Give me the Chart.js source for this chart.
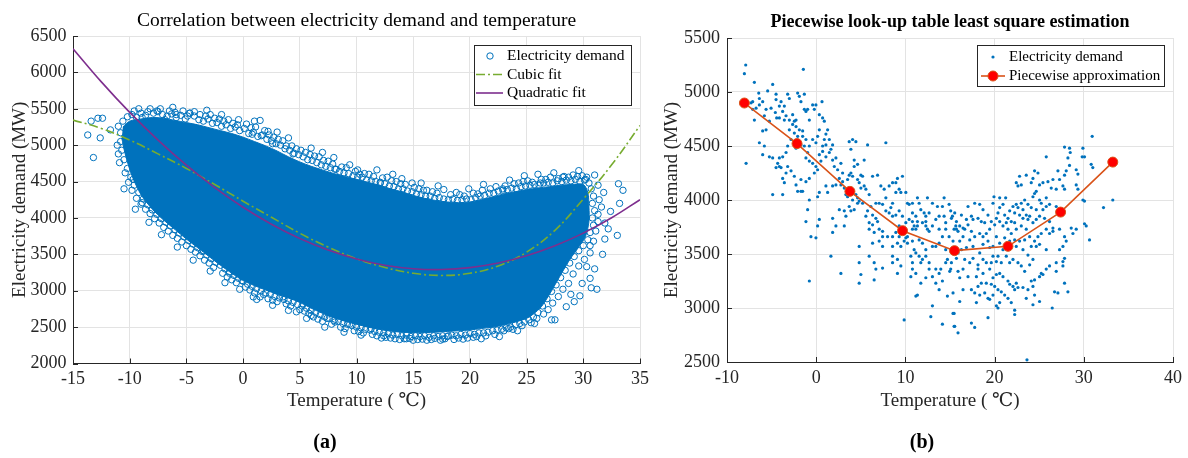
<!DOCTYPE html>
<html>
<head>
<meta charset="utf-8">
<script src="https://cdn.jsdelivr.net/npm/chart.js@4.4.1/dist/chart.umd.min.js"></script>
<style>
  html, body { margin: 0; padding: 0; background: #fff; }
  #wrap { position: relative; width: 1188px; height: 458px; overflow: hidden; }
  canvas { position: absolute; top: 0; }
</style>
</head>
<body>
<div id="wrap">
  <canvas id="ca" width="660" height="458" style="left:0"></canvas>
  <canvas id="cb" width="528" height="458" style="left:660px"></canvas>
</div>
<script>
// ---------------- Panel (a) data ----------------
const xTicksA = [-15, -10, -5, 0, 5, 10, 15, 20, 25, 30, 35];
const yTicksA = [2000, 2500, 3000, 3500, 4000, 4500, 5000, 5500, 6000, 6500];
const fitTemps = [-15, -12.5, -10, -7.5, -5, -2.5, 0, 2.5, 5, 7.5, 10, 12.5, 15, 17.5, 20, 22.5, 25, 27.5, 30, 32.5, 35];
const cubicFit = [5345, 5230, 5070, 4880, 4680, 4460, 4230, 4010, 3790, 3600, 3440, 3320, 3240, 3210, 3240, 3340, 3530, 3830, 4260, 4730, 5270];
const quadraticFit = [6326, 5870, 5451, 5070, 4725, 4417, 4147, 3913, 3717, 3558, 3435, 3350, 3302, 3291, 3317, 3380, 3480, 3617, 3791, 4002, 4251];
// outline of the saturated (overlapping circles) part of the cloud
const denseCloudA = [[-10.6,5250],[-10.0,5330],[-9.0,5360],[-8.0,5380],[-7.0,5370],[-6.0,5340],[-5.0,5310],[-4.0,5280],[-3.0,5240],[-2.0,5200],[-1.0,5160],[0,5110],[1,5050],[2,4990],[3,4920],[4,4840],[5,4770],[6,4710],[7,4660],[8,4610],[9,4570],[10,4530],[11,4490],[12,4450],[13,4400],[14,4360],[15,4310],[16,4270],[17,4240],[18,4220],[19,4210],[20,4220],[21,4250],[22,4290],[23,4330],[24,4360],[25,4390],[26,4410],[27,4430],[28,4450],[29,4460],[30,4460],[30.4,4350],[30.5,4150],[30.5,3950],[30.2,3750],[29.6,3600],[28.9,3450],[28.2,3270],[27.5,3080],[26.9,2920],[26.3,2780],[25.6,2680],[25,2620],[24,2570],[23,2530],[22,2500],[21,2480],[20,2460],[19,2450],[18,2440],[17,2430],[16,2425],[15,2425],[14,2430],[13,2445],[12,2470],[11,2500],[10,2540],[9,2580],[8,2630],[7,2690],[6,2760],[5,2840],[4,2900],[3,2950],[2,3010],[1,3070],[0,3140],[-1,3240],[-2,3350],[-3,3470],[-4,3590],[-5,3710],[-6,3840],[-7,3970],[-8,4120],[-9,4320],[-9.8,4580],[-10.4,4880],[-10.7,5100]];
// individually visible circles (cloud edge and outliers)
const demandPointsA = [
[-10.6,5330],[-10.2,5390],[-9.8,5420],[-9.4,5380],[-9.0,5440],[-8.6,5410],[-8.2,5500],[-7.9,5440],[-7.5,5460],[-7.1,5420],[-6.7,5400],[-6.3,5430],[-5.9,5380],[-5.5,5410],[-5.1,5360],[-4.7,5440],[-4.3,5400],[-3.9,5350],[-3.5,5330],[-3.1,5360],[-2.7,5300],[-2.3,5310],[-1.9,5260],[-1.5,5280],[-1.1,5230],[-0.7,5250],[-0.3,5200],[0.1,5230],[0.5,5160],[0.9,5180],[1.3,5120],[1.7,5140],[2.1,5080],[2.5,5060],[2.9,5020],[3.3,5000],[3.7,4950],[4.1,4930],[4.5,4890],[4.9,4870],[5.3,4840],[5.7,4800],[6.1,4790],[6.5,4760],[6.9,4730],[7.3,4710],[7.7,4690],[8.1,4670],[8.5,4640],[8.9,4620],[9.3,4610],[9.7,4580],[10.1,4560],[10.5,4560],[10.9,4520],[11.3,4510],[11.7,4500],[12.1,4480],[12.5,4470],[12.9,4440],[13.3,4430],[13.7,4400],[14.1,4400],[14.5,4370],[14.9,4360],[15.3,4330],[15.7,4320],[16.1,4300],[16.5,4300],[16.9,4270],[17.3,4280],[17.7,4260],[18.1,4250],[18.5,4260],[18.9,4240],[19.3,4250],[19.7,4260],[20.1,4250],[20.5,4280],[20.9,4300],[21.3,4310],[21.7,4340],[22.1,4340],[22.5,4370],[22.9,4380],[23.3,4390],[23.7,4410],[24.1,4400],[24.5,4430],[24.9,4440],[25.3,4450],[25.7,4460],[26.1,4450],[26.5,4480],[26.9,4490],[27.3,4480],[27.7,4510],[28.1,4500],[28.5,4520],[28.9,4510],[29.3,4530],[29.7,4500],[30.1,4520],[30.5,4480],
[30.7,4400],[30.9,4300],[30.8,4200],[31.0,4100],[30.8,4000],[30.9,3900],[30.6,3800],[30.4,3700],[30.0,3620],[29.6,3550],[29.2,3470],[28.8,3380],[28.4,3280],[28.0,3180],[27.6,3080],[27.2,2990],[26.8,2890],[26.4,2790],[26.0,2700],
[25.6,2640],[25.2,2600],[24.8,2570],[24.4,2550],[24.0,2530],[23.6,2500],[23.2,2490],[22.8,2470],[22.4,2460],[22.0,2450],[21.6,2430],[21.2,2420],[20.8,2420],[20.4,2400],[20.0,2410],[19.6,2390],[19.2,2400],[18.8,2380],[18.4,2390],[18.0,2370],[17.6,2380],[17.2,2370],[16.8,2380],[16.4,2360],[16.0,2380],[15.6,2370],[15.2,2380],[14.8,2370],[14.4,2390],[14.0,2380],[13.6,2400],[13.2,2390],[12.8,2410],[12.4,2420],[12.0,2430],[11.6,2440],[11.2,2460],[10.8,2470],[10.4,2490],[10.0,2500],[9.6,2520],[9.2,2540],[8.8,2550],[8.4,2580],[8.0,2590],[7.6,2620],[7.2,2640],[6.8,2670],[6.4,2700],[6.0,2730],[5.6,2760],[5.2,2790],[4.8,2810],[4.4,2840],[4.0,2860],[3.6,2880],[3.2,2900],[2.8,2920],[2.4,2950],[2.0,2970],[1.6,3000],[1.2,3030],[0.8,3060],[0.4,3090],[0.0,3130],[-0.4,3170],[-0.8,3210],[-1.2,3260],[-1.6,3300],[-2.0,3350],[-2.4,3390],[-2.8,3440],[-3.2,3490],[-3.6,3540],[-4.0,3590],[-4.4,3640],[-4.8,3690],[-5.2,3740],[-5.6,3790],[-6.0,3840],[-6.4,3890],[-6.8,3940],[-7.2,3990],[-7.6,4050],[-8.0,4110],[-8.4,4180],[-8.8,4260],[-9.2,4350],[-9.6,4450],[-9.9,4560],[-10.2,4680],[-10.5,4800],[-10.7,4930],[-10.8,5050],[-10.8,5170],
[-9.6,5470],[-8.9,5380],[-8.4,5460],[-7.3,5500],[-6.9,5350],[-6.5,5470],[-6.0,5450],[-5.3,5470],[-4.9,5400],[-3.8,5420],[-3.3,5400],[-2.9,5420],[-2.1,5360],[-1.7,5330],[-1.3,5350],[-0.9,5300],[-0.5,5280],[0.3,5290],[0.7,5240],[1.1,5250],[1.9,5200],[2.3,5140],[2.7,5110],[3.1,5080],[3.5,5060],[4.3,4990],[4.7,4950],[5.1,4930],[5.5,4900],[5.9,4870],[6.3,4850],[6.7,4840],[7.1,4790],[7.5,4780],[7.9,4740],[8.7,4700],[9.1,4690],[9.9,4640],[10.7,4610],[11.1,4600],[11.5,4570],[12.3,4550],[12.7,4560],[13.1,4510],[13.5,4500],[13.9,4470],[14.3,4460],[15.1,4420],[15.5,4400],[15.9,4380],[16.7,4360],[17.1,4340],[18.3,4320],[19.1,4320],[19.5,4300],[20.3,4340],[20.7,4330],[21.1,4380],[22.3,4430],[23.1,4440],[23.9,4470],[24.3,4480],[24.7,4500],[25.1,4510],[26.3,4530],[26.7,4530],[27.1,4560],[28.3,4570],[28.7,4560],[29.1,4590],[29.5,4570],[29.9,4580],[30.3,4560],
[31.3,4450],[31.4,4250],[31.6,4150],[31.3,3950],[31.1,3820],[30.9,3680],[30.6,3520],[30.1,3430],[29.6,3340],[29.1,3230],[28.7,3100],[28.2,3020],[27.8,2920],[27.3,2830],[26.9,2740],[26.5,2680],
[25.9,2620],[25.4,2560],[24.6,2520],[23.8,2470],[23.0,2450],[22.2,2400],[21.4,2380],[20.6,2370],[19.8,2350],[19.0,2350],[18.6,2330],[17.8,2340],[17.4,2320],[16.6,2330],[16.2,2320],[15.4,2330],[15.0,2320],[14.2,2340],[13.8,2330],[13.0,2350],[12.6,2360],[11.8,2380],[11.4,2400],[10.6,2420],[10.2,2440],[9.8,2450],[9.0,2480],[8.6,2500],[7.8,2540],[7.0,2580],[6.6,2610],[6.2,2640],[5.8,2690],[5.4,2720],[5.0,2740],[4.2,2790],[3.8,2820],[3.0,2850],[2.6,2870],[2.2,2890],[1.8,2950],[1.0,2970],[0.6,3010],[0.2,3050],[-0.6,3110],[-1.0,3150],[-1.4,3190],[-1.8,3240],[-2.6,3320],[-3.0,3380],[-3.4,3420],[-3.8,3480],[-4.2,3530],[-4.6,3570],[-5.0,3620],[-5.4,3670],[-5.8,3720],[-6.2,3760],[-6.6,3820],[-7.0,3870],[-7.4,3930],[-7.8,3990],[-8.2,4060],[-8.6,4120],[-9.0,4190],[-9.4,4270],[-9.8,4380],[-10.1,4490],[-10.4,4620],[-10.9,4760],[-11.0,4880],[-11.1,5000],[-11.0,5260],
[1.0,5330],[3.0,5180],[4.0,5100],[6.0,4960],[7.0,4900],[8.0,4830],[11.8,4660],[13.2,4600],[14.0,4540],[15.7,4480],[17.2,4440],[19.9,4400],[21.2,4460],[23.5,4520],[24.8,4580],[26.0,4600],[27.4,4620],[29.6,4650],[-1.9,5420],[-3.2,5480],[-6.2,5520],[-9.2,5500],
[24.2,2450],[22.6,2370],[21.0,2340],[19.4,2335],[17.6,2335],[15.8,2335],[14.4,2340],[13.4,2340],[12.2,2350],[10.4,2390],[8.9,2430],[7.2,2500],[5.6,2620],[4.0,2730],[2.6,2800],[1.2,2880],[-0.3,3020],[-1.6,3110],[-2.9,3270],[-4.4,3420],[-5.8,3600],[-7.2,3770],[-8.3,3940],[-9.5,4120],[-10.5,4400],
[31.8,4350],[32.2,3850],[31.7,3500],[31.0,3300],[29.9,3100],[28.9,2950],
[-13.4,5330],[-12.8,5370],[-12.4,5370],[-13.7,5140],[-12.6,5100],[-11.7,5210],[-13.2,4830],[-7.6,5470],[-5.9,5420],[-4.7,5440],[-4.3,5460],[-2.5,5370],[-0.4,5350],[1.5,5340],[0.8,5150],[2.2,5190],[1.6,5130],[2.6,5020],[3.8,4990],[4.4,4880],[-8.9,4210],[-9.7,4530],[-0.1,3140],[0.9,2915],[1.5,2915],[3.5,2915],[4.7,2710],[-1.2,3240],[-3.5,3550],[9.4,4730],[8.2,4670],[10.1,4660],[10.3,4600],[12.1,4490],[14.9,4480],[16.2,4380],[17.7,4390],[18.8,4350],[21.8,4400],[22.9,4400],[25.5,4490],[26.2,4480],[27.8,4540],[28.2,4560],[30.2,4530],[31.0,4590],[33.1,4470],[33.5,4380],[33.2,4200],[32.4,4090],[31.9,3930],[31.3,4050],[33.0,3760],[31.9,3710],[30.6,3620],[30.3,3330],[30.6,3170],[31.2,3020],[30.7,3040],[29.7,2930],[29.2,2850],[28.5,2780],[27.5,2600],[27.2,2600],[25.7,2550],[23.4,2480],[20.3,2360],[18.1,2380],[16.9,2345],[14.7,2345],[12.4,2380],[11.3,2480],[9.4,2540],[8.1,2570],[7.4,2620],[6.0,2660],[5.3,2820]
];

// ---------------- Panel (b) data ----------------
const xTicksB = [-10, 0, 10, 20, 30, 40];
const yTicksB = [2500, 3000, 3500, 4000, 4500, 5000, 5500];
const pieceTemps = [-8.05, -2.15, 3.78, 9.68, 15.5, 21.5, 27.4, 33.25];
const pieceDemand = [4898, 4522, 4080, 3716, 3531, 3571, 3888, 4351];
const demandPointsB = [
[-7.9,5250],[-8.05,5170],[-6.93,5090],[-1.44,5210],[-7.86,4340],[-4.88,5070],[-5.44,5010],[-6.44,4990],[-6.37,4940],[-7.12,4910],[-7.3,4900],[-6.37,4880],[-6.0,4910],[-5.62,4840],[-5.81,4780],[-5.06,4850],[-4.5,4980],[-4.5,4930],[-3.94,4910],[-4.13,4870],[-4.58,4810],[-4.43,4760],[-4.13,4760],[-5.25,4730],[-3.76,4820],[-3.57,4870],[-3.2,4980],[-3.01,4940],[-3.57,4740],[-3.38,4780],[-3.01,4740],[-2.64,4790],[-2.45,4730],[-2.26,4740],[-2.08,4990],[-1.89,4960],[-1.33,4980],[-1.71,4910],[-1.33,4840],[-1.15,4820],[-0.96,4840],[-0.77,4740],[-0.4,4880],[-0.21,4840],[-0.03,4880],[0.35,4790],[0.65,4910],[0.72,4760],[0.91,4730],[1.28,4650],[1.09,4610],[0.91,4560],[0.35,4650],[0.16,4590],[-0.4,4560],[-0.03,4530],[-0.77,4500],[-1.15,4560],[-1.52,4640],[-1.89,4650],[-2.26,4680],[-2.64,4700],[-3.01,4650],[-2.45,4620],[-2.08,4590],[-1.52,4590],[-1.33,4500],[-1.71,4510],[-2.26,4480],[-2.82,4560],[-3.2,4500],[-3.38,4440],[-3.76,4400],[-4.13,4390],[-4.32,4340],[-4.5,4300],[-4.88,4390],[-5.25,4400],[-6.0,4420],[-6.37,4530],[-5.81,4500],[-5.62,4650],[-6.0,4640],[-6.93,4740],[-7.12,4840],[-6.74,4850],[-0.96,4440],[-1.15,4390],[-0.77,4360],[-0.4,4340],[-0.03,4310],[0.16,4280],[-0.21,4250],[-0.77,4200],[-1.15,4170],[-1.71,4190],[-2.45,4220],[-2.82,4270],[-3.38,4250],[-3.94,4300],[-3.76,4200],[-3.57,4160],[-4.88,4050],[-3.76,4050],[-2.08,4080],[-1.71,4080],[-1.52,4080],[-2.26,4140],[-3.2,4310],[-4.13,4310],[0.53,4360],[1.09,4400],[1.47,4440],[1.65,4470],[1.84,4370],[2.03,4310],[2.21,4390],[1.47,4560],[1.09,4510],[0.72,4500],[0.72,4450],[0.35,4420],[1.84,4510],[2.4,4280],[2.59,4200],[2.77,4340],[2.96,4250],[2.96,4170],[2.77,4140],[2.21,4140],[1.84,4130],[1.09,4130],[1.28,4070],[0.35,4070],[0.16,4030],[-0.77,4000],[-0.96,3910],[-1.15,3800],[-0.59,3660],[-0.03,3650],[0.35,3820],[0.16,3760],[-0.77,3250],[1.84,3700],[1.65,3480],[2.77,3320],[1.84,3830],[2.21,3760],[2.59,3910],[3.15,3760],[3.33,3850],[3.7,3940],[3.15,3900],[3.89,3900],[4.26,3910],[4.64,3970],[4.08,4000],[4.45,4050],[4.64,4020],[4.82,3990],[5.2,3970],[5.01,4110],[5.38,4130],[5.57,4100],[5.94,4050],[6.32,4220],[6.88,4230],[5.2,4220],[4.82,4160],[4.64,4190],[3.89,4250],[4.08,4220],[3.7,4230],[3.52,4190],[3.15,4110],[3.33,4050],[3.52,4030],[3.7,4540],[4.08,4560],[4.45,4540],[3.89,4470],[4.26,4370],[4.26,4310],[4.64,4330],[5.38,4370],[5.01,4230],[5.76,4510],[7.81,4530],[5.94,3790],[6.32,3770],[6.5,3700],[5.94,3730],[7.06,3730],[7.44,3710],[6.69,3830],[6.88,3800],[6.32,3860],[5.57,3850],[5.76,3900],[6.13,3940],[6.69,3970],[7.06,3970],[7.44,3960],[7.81,4020],[7.25,4130],[7.62,4100],[8.18,4130],[8.56,4160],[8.93,4160],[9.11,4200],[9.67,4220],[9.3,4100],[9.49,4070],[8.93,4070],[8.56,3970],[8.37,3930],[7.81,3900],[8.18,3880],[8.56,3850],[8.93,3860],[9.3,3900],[9.67,3850],[9.3,3760],[8.93,3700],[8.56,3660],[8.0,3660],[7.44,3660],[7.06,3620],[7.44,3570],[6.32,3600],[5.94,3480],[4.82,3570],[4.82,3420],[6.5,3420],[7.44,3370],[6.69,3360],[6.5,3260],[4.82,3230],[5.01,3310],[8.56,3480],[9.11,3450],[9.49,3390],[9.11,3320],[8.56,3420],[10.05,4070],[10.23,3970],[10.42,3960],[10.79,3880],[11.17,3850],[11.54,3970],[11.73,3910],[12.1,3880],[12.29,3800],[11.91,3790],[12.29,3760],[12.47,3730],[12.66,3710],[13.03,3760],[13.41,3820],[13.78,3850],[14.15,3940],[13.59,3940],[12.66,3880],[12.47,4020],[12.29,3850],[11.35,3800],[11.17,3730],[10.79,3730],[10.23,3660],[10.05,3650],[10.23,3600],[10.98,3540],[11.17,3510],[11.54,3480],[11.73,3420],[10.79,3420],[10.61,3290],[11.17,3320],[11.73,3230],[11.35,3120],[11.17,3110],[12.29,3280],[13.03,3290],[13.41,3230],[13.78,3170],[14.15,3250],[14.71,3110],[13.03,3020],[12.85,2920],[14.15,2850],[15.46,2950],[15.46,2830],[9.86,2890],[12.29,3480],[12.66,3420],[13.03,3570],[13.78,3600],[14.15,3660],[14.52,3730],[14.9,3660],[14.52,3540],[14.71,3450],[15.27,3510],[15.08,3360],[14.52,3420],[14.34,3850],[14.52,3790],[14.9,3960],[15.08,3900],[15.27,3850],[15.65,3760],[15.46,3730],[13.78,3730],[13.41,3570],[9.11,3600],[9.49,3570],[9.86,3620],[8.56,3570],[9.3,3660],[10.79,3620],[11.54,3630],[11.91,3600],[12.29,3540],[11.91,3450],[12.66,3360],[13.41,3360],[13.78,3320],[13.97,3360],[10.61,3480],[10.79,3360],[10.98,3760],[11.35,3760],[10.79,3800],[10.42,3820],[10.05,3790],[10.79,3970],[11.35,4020],[13.03,3970],[14.34,4020],
[30.94,4590],[27.84,4490],[28.4,4480],[29.9,4480],[28.48,4440],[29.82,4400],[30.08,4400],[25.79,4400],[28.22,4390],[28.4,4320],[29.15,4280],[29.34,4240],[30.83,4330],[31.01,4300],[27.1,4270],[28.03,4270],[27.84,4230],[27.28,4190],[26.54,4190],[25.98,4170],[24.48,4270],[24.86,4250],[24.3,4200],[23.55,4230],[22.8,4220],[22.43,4160],[22.99,4140],[22.62,4130],[24.11,4160],[25.04,4140],[25.42,4160],[26.35,4110],[26.91,4100],[27.66,4130],[27.84,4100],[29.15,4140],[29.34,4100],[29.9,4000],[30.08,3990],[33.25,4000],[32.21,3930],[24.67,4080],[24.48,4060],[24.3,4030],[25.04,4000],[25.23,3970],[25.79,4020],[26.16,3960],[26.91,3940],[25.79,3940],[25.42,3910],[24.67,3910],[24.11,3930],[23.74,3960],[23.37,4000],[22.99,3970],[22.43,3960],[22.62,3930],[23.18,3910],[23.55,3860],[23.93,3850],[23.74,3820],[23.18,3830],[22.8,3860],[22.25,3880],[21.69,3900],[22.06,3940],[20.94,3960],[20.57,3930],[20.38,3880],[21.13,3860],[21.5,3830],[21.87,3800],[22.25,3790],[21.31,3790],[20.57,3800],[20.94,3760],[21.5,3730],[21.87,3690],[22.43,3730],[22.99,3760],[23.55,3730],[24.3,3790],[24.67,3820],[25.04,3850],[25.6,3830],[26.16,3800],[26.54,3740],[26.16,3690],[25.79,3730],[25.23,3690],[24.86,3660],[24.48,3620],[24.11,3570],[24.67,3570],[25.04,3590],[25.79,3540],[26.54,3710],[27.28,3730],[27.84,3660],[28.03,3620],[27.66,3570],[27.28,3540],[27.84,3460],[27.66,3430],[26.91,3420],[26.16,3390],[25.79,3360],[25.23,3320],[25.04,3290],[25.42,3310],[24.48,3260],[24.11,3250],[24.3,3200],[23.74,3170],[23.18,3190],[22.62,3190],[22.43,3230],[22.06,3200],[22.25,3170],[21.69,3220],[21.5,3250],[20.94,3290],[20.57,3320],[20.2,3310],[19.82,3280],[19.63,3220],[20.01,3200],[20.38,3170],[20.75,3150],[21.13,3120],[21.5,3090],[21.87,3050],[22.25,2980],[22.25,2940],[20.57,3050],[20.2,3020],[20.38,3000],[19.26,2910],[23.55,3090],[24.48,3120],[25.04,3060],[24.3,3030],[26.46,3000],[26.72,3150],[27.1,3140],[28.22,3150],[27.84,3230],[26.91,3340],[27.66,3390],[23.63,2520],[18.7,3320],[18.51,3230],[18.89,3140],[19.26,3090],[19.45,3080],[19.82,3120],[18.14,3200],[17.77,3140],[18.33,3120],[17.96,3050],[17.4,3170],[16.46,3170],[16.09,3060],[15.34,3140],[15.34,2950],[15.53,2830],[15.9,2770],[17.4,2860],[17.77,2820],[19.07,3230],[19.45,3360],[19.07,3420],[18.7,3450],[18.14,3400],[17.58,3460],[17.21,3420],[16.65,3450],[16.46,3360],[15.9,3340],[16.09,3280],[17.02,3290],[17.96,3290],[18.14,3360],[18.33,3510],[17.58,3570],[16.84,3560],[16.28,3540],[15.9,3510],[17.21,3630],[16.46,3660],[16.65,3730],[16.09,3760],[17.02,3770],[17.4,3710],[17.77,3660],[18.33,3690],[18.7,3660],[19.07,3690],[19.45,3730],[19.26,3620],[18.7,3590],[19.45,3560],[19.82,3570],[18.89,3790],[18.51,3800],[18.14,3830],[17.58,3820],[17.4,3850],[16.84,3820],[16.46,3740],[15.9,3710],[15.72,3800],[16.28,3860],[17.02,3940],[17.77,3970],[18.33,3960],[18.7,3910],[19.26,3860],[19.63,3800],[20.01,3770],[20.2,3830],[19.82,3970],[20.57,4020],[21.24,4020],[19.93,4030],[20.2,3660],[20.57,3600],[20.94,3540],[21.31,3480],[21.69,3420],[22.06,3450],[22.62,3420],[22.99,3390],[23.37,3340],[23.93,3400],[24.3,3450],[23.74,3490],[23.18,3540],[22.43,3570],[22.8,3620],[23.37,3630],[23.93,3660],[22.25,3630],[21.69,3620],[21.13,3650],[20.75,3420],[20.2,3430],[19.82,3480],[20.38,3480],[19.63,3420],[14.97,3340],[15.16,3420],[30.64,3630],[30.08,3780],[30.27,3760],[28.78,3690],[28.59,3740],[29.15,3730],[15.16,3830],[15.53,3880],[15.72,3730],[15.34,3620],[16.09,3620],[15.72,3460]
];

// ---------------- helpers ----------------
const SERIF = "'Liberation Serif', 'Times New Roman', 'DejaVu Serif', serif";
const pts = arr => arr.map(p => ({x: p[0], y: p[1]}));
const zipXY = (xs, ys) => xs.map((x, i) => ({x, y: ys[i]}));

const BLUE = '#0072BD', GREEN = '#77AC30', PURPLE = '#7E2F8E', ORANGE = '#D95319';
const AXIS = '#262626', GRID = '#e3e3e3';

// inward tick marks + boxed legend (MATLAB style)
const decor = {
  id: 'decor',
  afterDatasetsDraw(chart, args, o) {
    const {ctx, chartArea: a, scales: {x, y}} = chart;
    ctx.save();
    ctx.strokeStyle = AXIS; ctx.lineWidth = 1;
    ctx.beginPath();
    x.ticks.forEach(t => { const px = Math.round(x.getPixelForValue(t.value)) + 0.5; ctx.moveTo(px, a.bottom); ctx.lineTo(px, a.bottom - o.tick); });
    y.ticks.forEach(t => { const py = Math.round(y.getPixelForValue(t.value)) + 0.5; ctx.moveTo(a.left, py); ctx.lineTo(a.left + o.tick, py); });
    ctx.stroke();
    // legend
    const L = o.legend;
    ctx.fillStyle = '#fff';
    ctx.fillRect(L.x, L.y, L.w, L.h);
    ctx.strokeStyle = AXIS; ctx.lineWidth = 1;
    ctx.strokeRect(L.x + 0.5, L.y + 0.5, L.w, L.h);
    ctx.font = L.size + 'px ' + SERIF;
    ctx.textBaseline = 'middle'; ctx.textAlign = 'left';
    L.items.forEach((it, i) => {
      const cy = L.rows[i];
      const ds = chart.data.datasets[it.ds];
      ctx.save();
      if (it.kind === 'circle' || it.kind === 'dot') {
        ctx.beginPath(); ctx.arc(L.mx, cy, ds.pointRadius, 0, Math.PI * 2);
        if (it.kind === 'dot') { ctx.fillStyle = ds.pointBackgroundColor; ctx.fill(); }
        else { ctx.strokeStyle = ds.pointBorderColor; ctx.lineWidth = ds.pointBorderWidth; ctx.stroke(); }
      } else {
        ctx.beginPath(); ctx.moveTo(L.lx0, cy); ctx.lineTo(L.lx1, cy);
        ctx.strokeStyle = ds.borderColor; ctx.lineWidth = ds.borderWidth;
        ctx.setLineDash(ds.borderDash || []); ctx.stroke(); ctx.setLineDash([]);
        if (it.kind === 'linemarker') {
          ctx.beginPath(); ctx.arc(L.mx, cy, ds.pointRadius, 0, Math.PI * 2);
          ctx.fillStyle = ds.pointBackgroundColor; ctx.fill();
          ctx.strokeStyle = ds.pointBorderColor; ctx.lineWidth = ds.pointBorderWidth; ctx.stroke();
        }
      }
      ctx.restore();
      ctx.fillStyle = '#000';
      ctx.fillText(ds.label, L.tx, cy);
    });
    ctx.restore();
  }
};

function axisCfg(ticksArr, fixed, horiz, titleText, titlePad, tickPad) {
  return {
    type: 'linear',
    min: ticksArr[0], max: ticksArr[ticksArr.length - 1],
    afterBuildTicks: s => { s.ticks = ticksArr.map(v => ({value: v})); },
    afterFit: s => {
      if (horiz) { s.height = fixed; s.paddingLeft = 0; s.paddingRight = 0; }
      else { s.width = fixed; s.paddingTop = 0; s.paddingBottom = 0; }
    },
    grid: {color: GRID, lineWidth: 1, drawTicks: false},
    border: {color: AXIS, width: 1},
    ticks: {padding: tickPad, color: AXIS, font: {family: SERIF, size: 18}, callback: v => String(v), maxRotation: 0, autoSkip: false},
    title: {display: true, text: titleText, color: AXIS, font: {family: SERIF, size: 19}, padding: titlePad}
  };
}

// ---------------- Chart (a) ----------------
new Chart(document.getElementById('ca'), {
  type: 'scatter',
  data: {datasets: [
    {type: 'line', label: 'Quadratic fit', data: zipXY(fitTemps, quadraticFit), borderColor: PURPLE, borderWidth: 1.6, pointRadius: 0, tension: 0.4, fill: false, order: 0},
    {type: 'line', label: 'Cubic fit', data: zipXY(fitTemps, cubicFit), borderColor: GREEN, borderWidth: 1.6, borderDash: [9, 3, 2, 3], pointRadius: 0, tension: 0.4, fill: false, order: 1},
    {label: 'Electricity demand', data: pts(demandPointsA), pointRadius: 3.2, pointBorderWidth: 1, pointBorderColor: BLUE, pointBackgroundColor: 'rgba(0,0,0,0)', borderColor: BLUE, order: 2},
    {type: 'line', label: 'Electricity demand (dense)', data: pts(denseCloudA), fill: 'shape', backgroundColor: BLUE, borderColor: BLUE, borderWidth: 1, pointRadius: 0, tension: 0.3, order: 3}
  ]},
  options: {
    responsive: false, animation: false, devicePixelRatio: 1,
    layout: {padding: {left: 10, right: 20, top: 0, bottom: 0}},
    plugins: {
      legend: {display: false}, tooltip: {enabled: false},
      title: {display: true, fullSize: false, text: 'Correlation between electricity demand and temperature', color: '#000',
              font: {family: SERIF, size: 19.5, weight: 'normal'}, padding: {top: 9.5, bottom: 3.1}},
      subtitle: {display: true, position: 'bottom', text: '(a)', color: '#000',
                 font: {family: SERIF, size: 20, weight: 'bold'}, padding: {top: 17.5, bottom: 3}},
      decor: {tick: 5, legend: {x: 474, y: 45, w: 157, h: 60, size: 15.5, rows: [56, 74.5, 93], mx: 490, lx0: 476, lx1: 503, tx: 507,
              items: [{ds: 2, kind: 'circle'}, {ds: 1, kind: 'line'}, {ds: 0, kind: 'line'}]}}
    },
    scales: {
      x: axisCfg(xTicksA, 50, true, 'Temperature ( ℃)', {top: 0, bottom: 1}, 4.5),
      y: axisCfg(yTicksA, 63, false, 'Electricity demand (MW)', {top: -1, bottom: 0}, 6.5)
    }
  },
  plugins: [decor]
});

// ---------------- Chart (b) ----------------
new Chart(document.getElementById('cb'), {
  type: 'scatter',
  data: {datasets: [
    {type: 'line', label: 'Piecewise approximation', data: zipXY(pieceTemps, pieceDemand), borderColor: ORANGE, borderWidth: 1.6,
     pointRadius: 5, pointBorderWidth: 1, pointBackgroundColor: '#FF0000', pointBorderColor: ORANGE, tension: 0, fill: false, order: 0},
    {label: 'Electricity demand', data: pts(demandPointsB), pointRadius: 1.6, pointBorderWidth: 0, pointBackgroundColor: BLUE, pointBorderColor: BLUE, backgroundColor: BLUE, order: 1}
  ]},
  options: {
    responsive: false, animation: false, devicePixelRatio: 1,
    layout: {padding: {left: 11, right: 15, top: 0, bottom: 0}},
    plugins: {
      legend: {display: false}, tooltip: {enabled: false},
      title: {display: true, fullSize: false, text: 'Piecewise look-up table least square estimation', color: '#000',
              font: {family: SERIF, size: 18, weight: 'bold'}, padding: {top: 11.7, bottom: 4.7}},
      subtitle: {display: true, position: 'bottom', text: '(b)', color: '#000',
                 font: {family: SERIF, size: 20, weight: 'bold'}, padding: {top: 19, bottom: 3}},
      decor: {tick: 5, legend: {x: 317, y: 45, w: 187, h: 41, size: 15, rows: [57, 76], mx: 333, lx0: 321, lx1: 345, tx: 349,
              items: [{ds: 1, kind: 'dot'}, {ds: 0, kind: 'linemarker'}]}}
    },
    scales: {
      x: axisCfg(xTicksB, 50, true, 'Temperature ( ℃)', {top: 0, bottom: 0}, 5),
      y: axisCfg(yTicksB, 56, false, 'Electricity demand (MW)', {top: -10.4, bottom: 0}, 7)
    }
  },
  plugins: [decor]
});
</script>
</body>
</html>
